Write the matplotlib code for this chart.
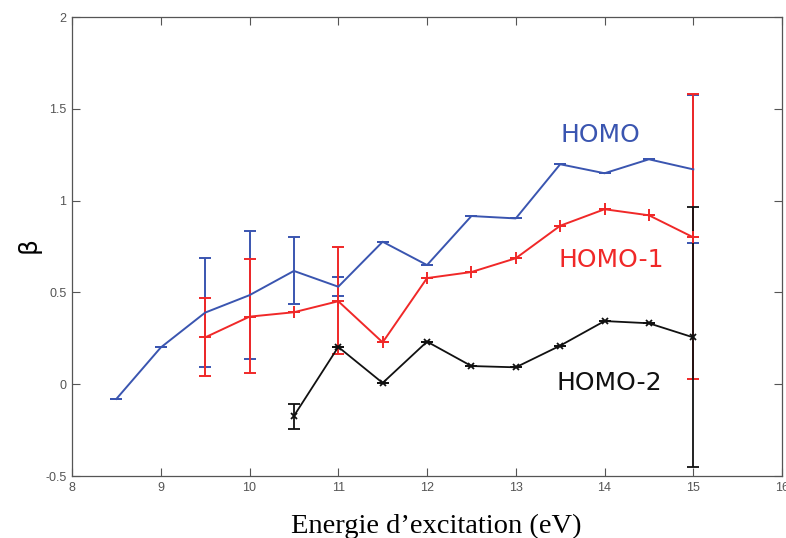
import matplotlib.pyplot as plt
import numpy as np

# HOMO (blue)
homo_x = [8.5, 9, 9.5, 10, 10.5, 11, 11.5, 12, 12.5, 13, 13.5, 14, 14.5, 15]
homo_y = [-0.08, 0.20, 0.39, 0.485, 0.617, 0.531, 0.776, 0.649, 0.916, 0.903, 1.198, 1.149, 1.225, 1.17]
homo_lo = [0, 0, 0.295, 0.345, 0.182, 0.051, 0, 0, 0, 0, 0, 0, 0, 0.40]
homo_hi = [0, 0, 0.30, 0.351, 0.183, 0.054, 0, 0, 0, 0, 0, 0, 0, 0.405]

# HOMO-1 (red)
homo1_x = [9.5, 10, 10.5, 11, 11.5, 12, 12.5, 13, 13.5, 14, 14.5, 15]
homo1_y = [0.255, 0.368, 0.392, 0.452, 0.228, 0.578, 0.611, 0.686, 0.863, 0.953, 0.92, 0.80]
homo1_lo = [0.21, 0.305, 0, 0.287, 0, 0, 0, 0, 0, 0, 0, 0.773]
homo1_hi = [0.213, 0.316, 0, 0.294, 0, 0, 0, 0, 0, 0, 0, 0.78]

# HOMO-2 (black)
homo2_x = [10.5, 11, 11.5, 12, 12.5, 13, 13.5, 14, 14.5, 15]
homo2_y = [-0.173, 0.203, 0.007, 0.232, 0.099, 0.092, 0.21, 0.344, 0.332, 0.255]
homo2_lo = [0.073, 0, 0, 0, 0, 0, 0, 0, 0, 0.708]
homo2_hi = [0.065, 0, 0, 0, 0, 0, 0, 0, 0, 0.71]

blue = "#3a55b0"
red = "#f02828"
black = "#111111"

fig = plt.figure(figsize=(7.86, 5.38), dpi=100)
ax = fig.add_axes([0.0916, 0.1152, 0.9034, 0.8532])

ax.errorbar(homo_x, homo_y, yerr=[homo_lo, homo_hi], color=blue, lw=1.4,
            capsize=4, elinewidth=1.4, capthick=1.4)
ax.errorbar(homo1_x, homo1_y, yerr=[homo1_lo, homo1_hi], color=red, lw=1.4,
            marker="+", ms=8, mew=1.4, capsize=4, elinewidth=1.4, capthick=1.4)
ax.errorbar(homo2_x, homo2_y, yerr=[homo2_lo, homo2_hi], color=black, lw=1.3,
            marker="x", ms=5, mew=1.3, capsize=4, elinewidth=1.3, capthick=1.3)

ax.text(13.95, 1.357, "HOMO", color=blue, fontsize=18, ha="center", va="center")
ax.text(14.08, 0.676, "HOMO-1", color=red, fontsize=18, ha="center", va="center")
ax.text(14.05, 0.006, "HOMO-2", color=black, fontsize=18, ha="center", va="center")

ax.set_xlim(8, 16)
ax.set_ylim(-0.5, 2)
ax.set_xticks(np.arange(8, 17, 1))
ax.set_yticks([-0.5, 0, 0.5, 1, 1.5, 2])
ax.set_yticklabels(["-0.5", "0", "0.5", "1", "1.5", "2"])
ax.tick_params(direction="in", length=6, width=0.8, color="#555555",
               labelsize=9, labelcolor="#555555", top=True, right=True, pad=4)
for lab in ax.get_xticklabels() + ax.get_yticklabels():
    lab.set_family("Liberation Sans")
for s in ax.spines.values():
    s.set_color("#555555")
    s.set_linewidth(0.9)

fig.text(0.555, 0.022, "Energie d\u2019excitation (eV)", fontsize=20.5,
         family="Liberation Serif", ha="center", va="center")
fig.text(0.036, 0.545, "\u03b2", fontsize=18, rotation=90, ha="center", va="center")

fig.savefig("out.png", dpi=100)
